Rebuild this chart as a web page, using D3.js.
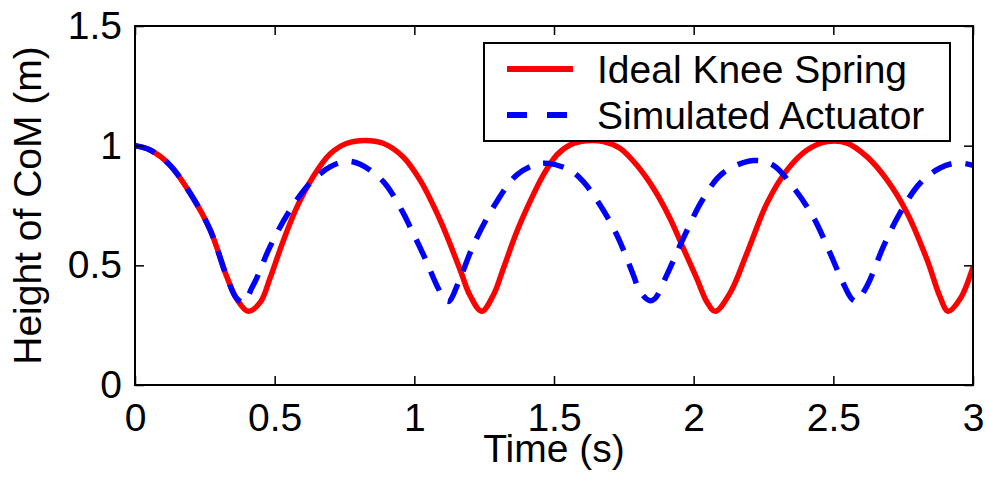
<!DOCTYPE html>
<html>
<head>
<meta charset="utf-8">
<script src="https://d3js.org/d3.v7.min.js"></script>
<style>
  body { margin: 0; background: #fff; }
  text { font-family: "Liberation Sans", Arial, sans-serif; }
</style>
</head>
<body>
<div id="chart"></div>
<script>
// values
const idealTime = [0.000, 0.054, 0.125, 0.197, 0.269, 0.329, 0.365, 0.405, 0.448, 0.483, 0.530, 0.580, 0.637, 0.698, 0.759, 0.823, 0.888, 0.960, 1.020, 1.092, 1.164, 1.199, 1.241, 1.283, 1.319, 1.367, 1.414, 1.462, 1.510, 1.557, 1.617, 1.677, 1.736, 1.796, 1.856, 1.915, 1.963, 2.011, 2.047, 2.077, 2.130, 2.191, 2.263, 2.334, 2.406, 2.478, 2.549, 2.621, 2.692, 2.764, 2.836, 2.882, 2.911, 2.954, 3.000];
const idealHeight = [1.000, 0.982, 0.919, 0.802, 0.648, 0.451, 0.358, 0.308, 0.345, 0.445, 0.600, 0.744, 0.869, 0.965, 1.010, 1.022, 1.010, 0.953, 0.857, 0.690, 0.481, 0.375, 0.308, 0.376, 0.488, 0.641, 0.766, 0.878, 0.961, 1.003, 1.020, 1.017, 0.989, 0.919, 0.822, 0.697, 0.571, 0.446, 0.348, 0.308, 0.384, 0.552, 0.761, 0.898, 0.982, 1.017, 1.011, 0.953, 0.857, 0.719, 0.522, 0.368, 0.308, 0.360, 0.493];

const actuatorTime = [0.000, 0.054, 0.125, 0.197, 0.269, 0.329, 0.364, 0.390, 0.418, 0.437, 0.483, 0.555, 0.627, 0.698, 0.758, 0.806, 0.889, 0.960, 0.985, 1.040, 1.081, 1.110, 1.125, 1.157, 1.217, 1.295, 1.367, 1.438, 1.480, 1.557, 1.605, 1.665, 1.725, 1.784, 1.808, 1.844, 1.862, 1.904, 1.963, 2.035, 2.105, 2.213, 2.284, 2.356, 2.428, 2.488, 2.535, 2.566, 2.582, 2.621, 2.679, 2.739, 2.811, 2.882, 2.943, 3.000];
const actuatorHeight = [1.000, 0.982, 0.919, 0.802, 0.648, 0.451, 0.362, 0.345, 0.405, 0.450, 0.577, 0.731, 0.844, 0.911, 0.935, 0.922, 0.850, 0.719, 0.660, 0.525, 0.415, 0.355, 0.350, 0.426, 0.599, 0.766, 0.878, 0.922, 0.926, 0.898, 0.850, 0.752, 0.627, 0.460, 0.390, 0.352, 0.362, 0.460, 0.613, 0.780, 0.886, 0.938, 0.919, 0.827, 0.702, 0.552, 0.426, 0.360, 0.350, 0.415, 0.578, 0.719, 0.844, 0.907, 0.928, 0.918];

const xTicks = [0, 0.5, 1, 1.5, 2, 2.5, 3];
const yTicks = [0, 0.5, 1, 1.5];
const seriesNames = ["Ideal Knee Spring", "Simulated Actuator"];

const W = 990, H = 489;
const margin = { top: 26, right: 17, bottom: 104, left: 135 },
      width = W - margin.left - margin.right,
      height = H - margin.top - margin.bottom;

const svg = d3.select("#chart")
    .append("svg")
    .attr("width", W)
    .attr("height", H);

const g = svg.append("g")
    .attr("transform", `translate(${margin.left},${margin.top})`);

const x = d3.scaleLinear().domain([0, 3]).range([0, width]);
const y = d3.scaleLinear().domain([0, 1.5]).range([height, 0]);

g.append("clipPath").attr("id", "plotClip")
    .append("rect")
    .attr("width", width)
    .attr("height", height);

const line = d3.line()
    .x(d => x(d[0]))
    .y(d => y(d[1]))
    .curve(d3.curveCatmullRom.alpha(0.5));

const ideal = idealTime.map((t, i) => [t, idealHeight[i]]);
const actuator = actuatorTime.map((t, i) => [t, actuatorHeight[i]]);

g.append("path")
    .datum(ideal)
    .attr("clip-path", "url(#plotClip)")
    .attr("fill", "none")
    .attr("stroke", "#ff0000")
    .attr("stroke-width", 5.5)
    .attr("d", line);

g.append("path")
    .datum(actuator)
    .attr("clip-path", "url(#plotClip)")
    .attr("fill", "none")
    .attr("stroke", "#0000ff")
    .attr("stroke-width", 5.5)
    .attr("stroke-dasharray", "21,14")
    .attr("d", line);

// axes, ticks point inward
const fmt = d => String(d);
const fontSize = "39px";

g.append("g")
    .attr("transform", `translate(0,${height})`)
    .call(d3.axisBottom(x).tickValues(xTicks).tickFormat(fmt).tickSize(-9).tickPadding(18));

g.append("g")
    .call(d3.axisLeft(y).tickValues(yTicks).tickFormat(fmt).tickSize(-9).tickPadding(13));

g.append("g")
    .call(d3.axisTop(x).tickValues(xTicks).tickFormat("").tickSize(-9));

g.append("g")
    .attr("transform", `translate(${width},0)`)
    .call(d3.axisRight(y).tickValues(yTicks).tickFormat("").tickSize(-9));

g.selectAll(".domain").remove();
g.selectAll(".tick line").attr("stroke", "#000").attr("stroke-width", 1.5);
g.selectAll(".tick text")
    .attr("fill", "#000")
    .style("font-size", fontSize)
    .style("font-family", "'Liberation Sans', Arial, sans-serif");

g.append("rect")
    .attr("width", width)
    .attr("height", height)
    .attr("fill", "none")
    .attr("stroke", "#000")
    .attr("stroke-width", 2);

// axis labels
g.append("text")
    .attr("text-anchor", "middle")
    .attr("x", width / 2)
    .attr("y", height + 77)
    .style("font-size", fontSize)
    .text("Time (s)");

g.append("text")
    .attr("text-anchor", "middle")
    .attr("transform", "rotate(-90)")
    .attr("x", -height / 2)
    .attr("y", -94)
    .style("font-size", fontSize)
    .text("Height of CoM (m)");

// legend
const legend = svg.append("g").attr("transform", "translate(484,43)");

legend.append("rect")
    .attr("width", 466)
    .attr("height", 98)
    .attr("fill", "#fff")
    .attr("stroke", "#000")
    .attr("stroke-width", 2);

const legendStyles = [
    { color: "#ff0000", dash: null },
    { color: "#0000ff", dash: "20,20" }
];

seriesNames.forEach((name, i) => {
    const row = legend.append("g").attr("transform", `translate(0,${26 + i * 46})`);
    row.append("line")
        .attr("x1", 23).attr("x2", 89)
        .attr("stroke", legendStyles[i].color)
        .attr("stroke-width", 6)
        .attr("stroke-dasharray", legendStyles[i].dash);
    row.append("text")
        .attr("x", 113)
        .attr("y", 14)
        .style("font-size", fontSize)
        .text(name);
});
</script>
</body>
</html>
